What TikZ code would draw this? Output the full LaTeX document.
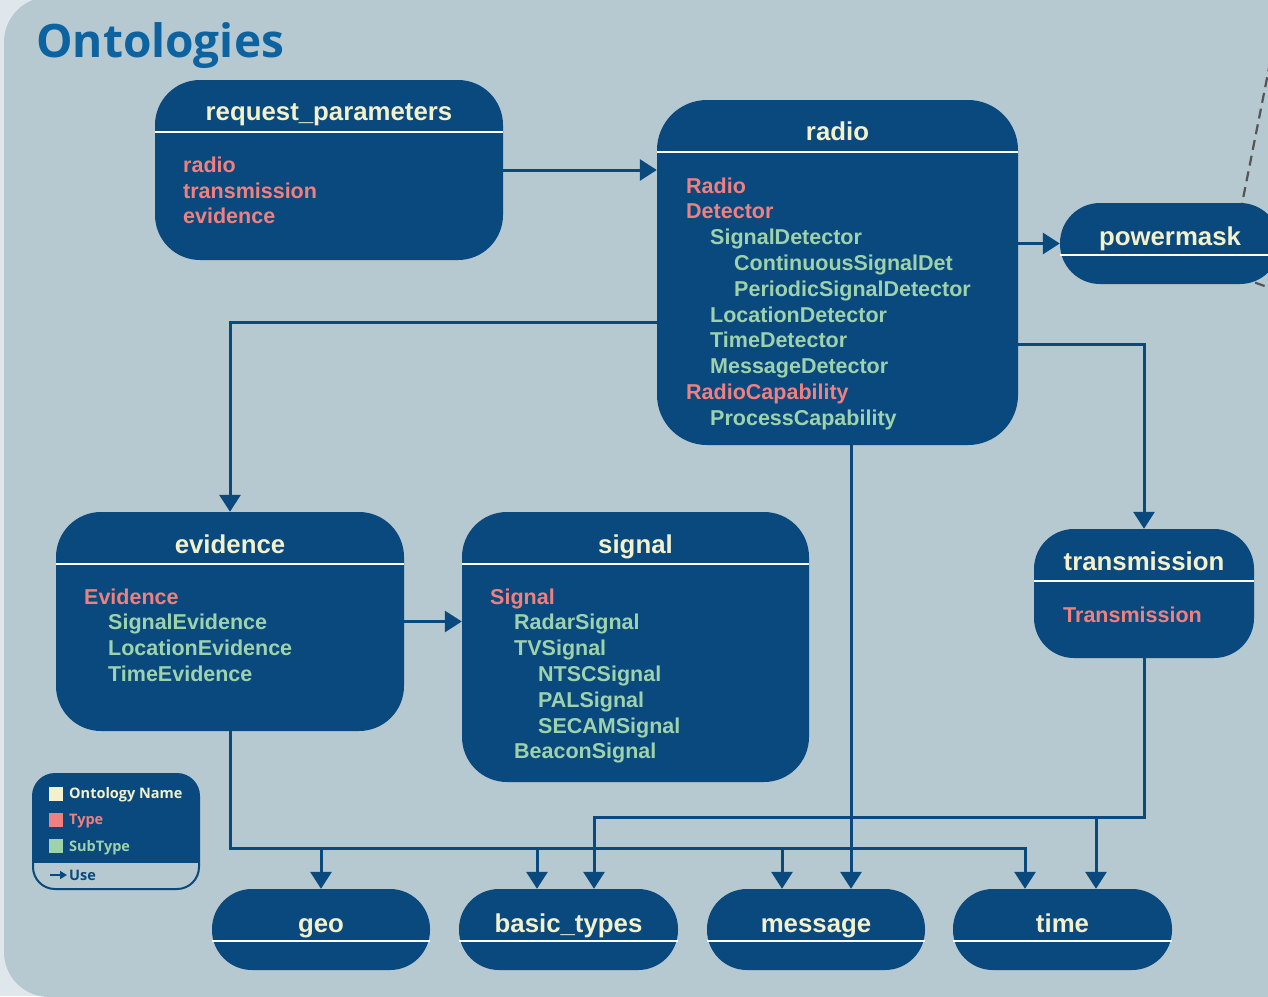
\documentclass[tikz,border=0pt]{standalone}
\usepackage{fontspec}
\setmainfont{Liberation Sans}
\newfontfamily\legfont{Open Sans}
\usetikzlibrary{arrows.meta}
\definecolor{pagebg}{RGB}{182,200,208}
\definecolor{outerbg}{RGB}{224,231,236}
\definecolor{boxblue}{RGB}{10,73,126}
\definecolor{titlecol}{RGB}{243,241,204}
\definecolor{typecol}{RGB}{240,128,128}
\definecolor{subcol}{RGB}{158,210,170}
\definecolor{headcol}{RGB}{12,99,160}
\definecolor{dashcol}{RGB}{85,85,85}
\tikzset{
 obox/.style={fill=boxblue, draw=none, inner sep=0pt},
 sepline/.style={draw=white, line width=1.3pt},
 otitle/.style={anchor=base, text=titlecol, inner sep=0pt, font=\fontsize{25.8}{30}\selectfont\bfseries},
 tline/.style={anchor=base west, text=typecol, inner sep=0pt, font=\fontsize{21.5}{25}\selectfont\bfseries},
 sline/.style={tline, text=subcol},
 conn/.style={draw=boxblue, line width=3pt, -{Triangle[length=17pt,width=21pt]}},
 dashline/.style={draw=dashcol, line width=2.2pt, dash pattern=on 10pt off 6pt},
 legtext/.style={anchor=base west, inner sep=0pt, font=\legfont\bfseries\fontsize{14.5}{17}\selectfont},
 legsq/.style={draw=none, inner sep=0pt, minimum size=14pt},
}
\begin{document}
\begin{tikzpicture}[x=1pt,y=-1pt]
\useasboundingbox (0,0) rectangle (1268,996);
\clip (0,0) rectangle (1268,996);
% background
\fill[outerbg] (0,0) rectangle (1268,996);
\fill[pagebg, rounded corners=45pt] (4,-3) rectangle (1330,997);

% title
\node[anchor=base west, inner sep=0pt, text=headcol, font=\legfont\bfseries\fontsize{46}{50}\selectfont] (head) at (36,57) {Ontologies};

% dashed lines toward off-picture items
\coordinate (offA) at (1273,48);
\coordinate (offB) at (1290,295);
\coordinate (pmA) at (1234,244);
\coordinate (pmB) at (1225,272);
\draw[dashline] (pmA) -- (offA);
\draw[dashline] (pmB) -- (offB);

% boxes
\node[obox, rounded corners=45pt, minimum width=348pt, minimum height=180pt] (rp) at (329,170) {};
\node[obox, rounded corners=50pt, minimum width=361pt, minimum height=345pt] (radio) at (837.5,272.5) {};
\node[obox, rounded corners=40pt, minimum width=220pt, minimum height=81pt] (pm) at (1170,243.5) {};
\node[obox, rounded corners=45pt, minimum width=348pt, minimum height=219pt] (ev) at (230,621.5) {};
\node[obox, rounded corners=45pt, minimum width=347pt, minimum height=270pt] (sig) at (635.5,647) {};
\node[obox, rounded corners=40pt, minimum width=220pt, minimum height=129pt] (tr) at (1144,593.5) {};
\node[obox, rounded corners=40pt, minimum width=218pt, minimum height=81pt] (geo) at (321,929.5) {};
\node[obox, rounded corners=40pt, minimum width=219pt, minimum height=81pt] (bt) at (568.5,929.5) {};
\node[obox, rounded corners=40pt, minimum width=218pt, minimum height=81pt] (msg) at (816,929.5) {};
\node[obox, rounded corners=40pt, minimum width=219pt, minimum height=81pt] (tm) at (1062.5,929.5) {};

% separators
\draw[sepline] (rp.west |- 0,132) -- (rp.east |- 0,132);
\draw[sepline] (radio.west |- 0,152) -- (radio.east |- 0,152);
\draw[sepline] (pm.west |- 0,255) -- (pm.east |- 0,255);
\draw[sepline] (ev.west |- 0,564) -- (ev.east |- 0,564);
\draw[sepline] (sig.west |- 0,564) -- (sig.east |- 0,564);
\draw[sepline] (tr.west |- 0,581) -- (tr.east |- 0,581);
\draw[sepline] (geo.west |- 0,941) -- (geo.east |- 0,941);
\draw[sepline] (bt.west |- 0,941) -- (bt.east |- 0,941);
\draw[sepline] (msg.west |- 0,941) -- (msg.east |- 0,941);
\draw[sepline] (tm.west |- 0,941) -- (tm.east |- 0,941);

% titles
\node[otitle] (rp-t) at (329,120) {request\_parameters};
\node[otitle] (radio-t) at (837.5,140) {radio};
\node[otitle] (pm-t) at (1170,245) {powermask};
\node[otitle] (ev-t) at (230,553) {evidence};
\node[otitle] (sig-t) at (635.5,553) {signal};
\node[otitle] (tr-t) at (1144,570) {transmission};
\node[otitle] (geo-t) at (321,932) {geo};
\node[otitle] (bt-t) at (568.5,932) {basic\_types};
\node[otitle] (msg-t) at (816,932) {message};
\node[otitle] (tm-t) at (1062.5,932) {time};

% request_parameters contents
\node[tline] (rp-1) at (183,172) {radio};
\node[tline] (rp-2) at (183,198) {transmission};
\node[tline] (rp-3) at (183,223) {evidence};

% radio contents
\node[tline] (ra-1) at (686,193) {Radio};
\node[tline] (ra-2) at (686,218.8) {Detector};
\node[sline] (ra-3) at (710,244.6) {SignalDetector};
\node[sline] (ra-4) at (734,270.4) {ContinuousSignalDet};
\node[sline] (ra-5) at (734,296.2) {PeriodicSignalDetector};
\node[sline] (ra-6) at (710,322) {LocationDetector};
\node[sline] (ra-7) at (710,347.8) {TimeDetector};
\node[sline] (ra-8) at (710,373.6) {MessageDetector};
\node[tline] (ra-9) at (686,399.4) {RadioCapability};
\node[sline] (ra-10) at (710,425.2) {ProcessCapability};

% evidence contents
\node[tline] (ev-1) at (84,604) {Evidence};
\node[sline] (ev-2) at (108,629.8) {SignalEvidence};
\node[sline] (ev-3) at (108,655.6) {LocationEvidence};
\node[sline] (ev-4) at (108,681.4) {TimeEvidence};

% signal contents
\node[tline] (sg-1) at (490,604) {Signal};
\node[sline] (sg-2) at (514,629.8) {RadarSignal};
\node[sline] (sg-3) at (514,655.6) {TVSignal};
\node[sline] (sg-4) at (538,681.4) {NTSCSignal};
\node[sline] (sg-5) at (538,707.2) {PALSignal};
\node[sline] (sg-6) at (538,733) {SECAMSignal};
\node[sline] (sg-7) at (514,758.8) {BeaconSignal};

% transmission contents
\node[tline] (tr-1) at (1063,622) {Transmission};

% connector endpoints
\coordinate (geoA) at (geo.north);
\coordinate (btA) at ([xshift=-31.5pt]bt.north);
\coordinate (btB) at ([xshift=25.5pt]bt.north);
\coordinate (msgA) at ([xshift=-34pt]msg.north);
\coordinate (msgB) at ([xshift=35pt]msg.north);
\coordinate (tmA) at ([xshift=-37.5pt]tm.north);
\coordinate (tmB) at ([xshift=33.5pt]tm.north);

% connectors
\draw[conn] (rp.east) -- (rp.east -| radio.west);
\draw[conn] (radio.east |- pm.west) -- (pm.west);
\draw[conn] (radio.west |- 0,322) -| (ev.north);
\draw[conn] (radio.east |- 0,344) -| (tr.north);
\draw[conn] (ev.east) -- (ev.east -| sig.west);
\draw[conn] (radio.south -| msgB) -- (msgB);
\draw[conn] (ev.south) |- (tmA |- 0,848) -- (tmA);
\draw[conn] (geoA |- 0,848) -- (geoA);
\draw[conn] (btA |- 0,848) -- (btA);
\draw[conn] (msgA |- 0,848) -- (msgA);
\draw[conn] (tr.south) |- (btB |- 0,817) -- (btB);
\draw[conn] (tmB |- 0,817) -- (tmB);

% legend
\begin{scope}
\clip[rounded corners=22pt] (33,774) rectangle (199,889);
\fill[boxblue] (33,774) rectangle (199,863);
\end{scope}
\node[draw=boxblue, line width=2pt, rounded corners=22pt, inner sep=0pt, minimum width=166pt, minimum height=115pt] (leg) at (116,831.5) {};
\node[legsq, fill=titlecol] (lsq1) at (56,793.5) {};
\node[legsq, fill=typecol] (lsq2) at (56,819.5) {};
\node[legsq, fill=subcol] (lsq3) at (56,845.5) {};
\node[legtext, text=titlecol] (lt1) at (69,798) {Ontology Name};
\node[legtext, text=typecol] (lt2) at (69,824) {Type};
\node[legtext, text=subcol] (lt3) at (69,851) {SubType};
\node[legtext, text=boxblue] (lt4) at (69,880) {Use};
\coordinate (luA) at (50,875);
\coordinate (luB) at (67,875);
\draw[draw=boxblue, line width=1.6pt, -{Triangle[length=7pt,width=8pt]}] (luA) -- (luB);
\end{tikzpicture}
\end{document}
